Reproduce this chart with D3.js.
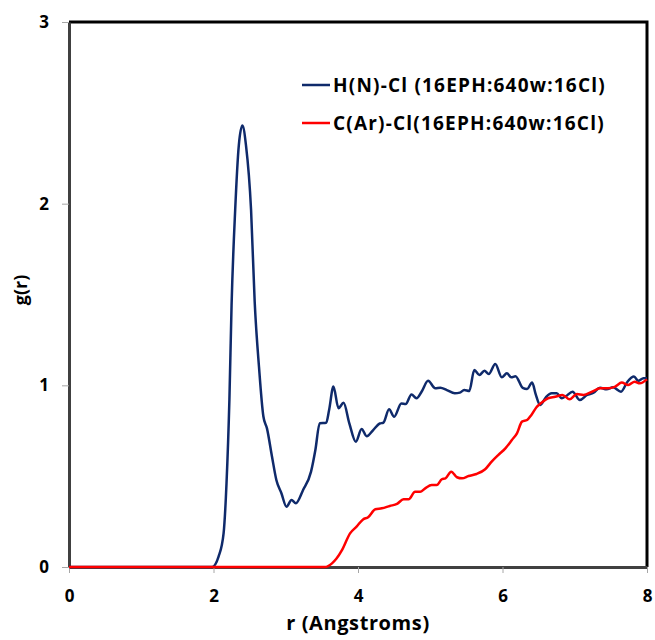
<!DOCTYPE html>
<html>
<head>
<meta charset="utf-8">
<script src="https://cdn.jsdelivr.net/npm/d3@7"></script>
<style>
  body { margin: 0; background: #fff; }
  text { font-family: "Open Sans", sans-serif; font-weight: bold; }
</style>
</head>
<body>
<svg width="655" height="640"></svg>
<script>
// Series names
const seriesNames = ["H(N)-Cl (16EPH:640w:16Cl)", "C(Ar)-Cl(16EPH:640w:16Cl)"];

// H(N)-Cl : [r, g(r)]
const hnData = [
  [0, 0], [1.98, 0], [2.07, 0.057], [2.14, 0.187], [2.18, 0.46], [2.22, 0.92],
  [2.25, 1.44], [2.30, 1.965], [2.35, 2.32], [2.40, 2.43], [2.45, 2.32], [2.52, 1.965],
  [2.57, 1.46], [2.63, 1.10], [2.69, 0.83], [2.74, 0.763], [2.81, 0.607], [2.87, 0.479],
  [2.94, 0.406], [3.01, 0.332], [3.08, 0.369], [3.14, 0.351], [3.24, 0.424], [3.35, 0.525],
  [3.41, 0.644], [3.47, 0.791], [3.56, 0.794], [3.60, 0.864], [3.66, 0.993], [3.73, 0.874],
  [3.80, 0.904], [3.88, 0.791], [3.97, 0.69], [4.05, 0.76], [4.12, 0.72], [4.21, 0.754],
  [4.30, 0.79], [4.35, 0.794], [4.43, 0.868], [4.50, 0.827], [4.60, 0.90], [4.66, 0.897],
  [4.74, 0.95], [4.81, 0.929], [4.88, 0.965], [4.97, 1.025], [5.07, 0.984], [5.14, 0.987],
  [5.23, 0.974], [5.34, 0.956], [5.41, 0.96], [5.47, 0.974], [5.54, 0.969], [5.61, 1.084],
  [5.68, 1.057], [5.75, 1.08], [5.81, 1.062], [5.90, 1.117], [5.99, 1.044], [6.06, 1.066],
  [6.12, 1.044], [6.18, 1.05], [6.28, 0.986], [6.34, 0.98], [6.41, 1.015], [6.46, 0.95],
  [6.52, 0.892], [6.60, 0.934], [6.68, 0.956], [6.75, 0.956], [6.82, 0.929], [6.88, 0.941],
  [6.97, 0.965], [7.07, 0.919], [7.17, 0.947], [7.26, 0.959], [7.35, 0.987], [7.44, 0.978],
  [7.53, 0.989], [7.64, 0.965], [7.73, 1.02], [7.82, 1.048], [7.88, 1.025], [7.95, 1.039],
  [8.0, 1.039]
];

// C(Ar)-Cl : [r, g(r)]
const carData = [
  [0, 0], [3.54, 0], [3.64, 0.02], [3.70, 0.045], [3.78, 0.094], [3.89, 0.185],
  [3.98, 0.222], [4.07, 0.262], [4.14, 0.274], [4.24, 0.318], [4.33, 0.323], [4.44, 0.336],
  [4.54, 0.347], [4.63, 0.373], [4.70, 0.373], [4.79, 0.414], [4.86, 0.414], [4.93, 0.433],
  [5.02, 0.451], [5.09, 0.451], [5.16, 0.483], [5.21, 0.488], [5.29, 0.525], [5.37, 0.494],
  [5.44, 0.488], [5.53, 0.501], [5.64, 0.512], [5.76, 0.538], [5.85, 0.58], [5.94, 0.616],
  [6.04, 0.653], [6.13, 0.699], [6.20, 0.736], [6.27, 0.80], [6.34, 0.809], [6.40, 0.837],
  [6.47, 0.879], [6.54, 0.904], [6.63, 0.929], [6.73, 0.937], [6.83, 0.947], [6.93, 0.923],
  [7.03, 0.952], [7.12, 0.947], [7.24, 0.965], [7.35, 0.984], [7.46, 0.984], [7.56, 0.993],
  [7.65, 1.015], [7.74, 1.002], [7.83, 1.02], [7.90, 1.011], [8.0, 1.033]
];

const xTicks = [0, 2, 4, 6, 8];
const yTicks = [0, 1, 2, 3];
const colors = ["#0f2a6b", "#ff0000"];

// Plot box
const plotLeft = 69, plotRight = 647, plotTop = 22, plotBottom = 567;
const svg = d3.select("svg");

const xScale = d3.scaleLinear().domain([0, 8]).range([plotLeft, plotRight]);
const yScale = d3.scaleLinear().domain([0, 3]).range([plotBottom, plotTop]);

// Frame (top and right in black)
svg.append("path")
    .attr("d", `M${plotLeft},${plotTop}H${plotRight}V${plotBottom}`)
    .attr("fill", "none")
    .attr("stroke", "#000")
    .attr("stroke-width", 3);

// Axes
const xAxis = d3.axisBottom(xScale)
    .tickValues(xTicks)
    .tickFormat(d3.format("d"))
    .tickSize(6).tickSizeOuter(0).tickPadding(17);
const yAxis = d3.axisLeft(yScale)
    .tickValues(yTicks)
    .tickFormat(d3.format("d"))
    .tickSize(7).tickSizeOuter(0).tickPadding(13);

const gx = svg.append("g")
    .attr("transform", `translate(0,${plotBottom})`)
    .call(xAxis);
const gy = svg.append("g")
    .attr("transform", `translate(${plotLeft},0)`)
    .call(yAxis);

[gx, gy].forEach(g => {
  g.select(".domain").attr("stroke", "#404040").attr("stroke-width", 3);
  g.selectAll(".tick line").attr("stroke", "#a6a6a6").attr("stroke-width", 1);
  g.selectAll(".tick text")
    .attr("fill", "#000")
    .style("font-size", "17px")
    .style("font-family", "'Open Sans', sans-serif")
    .style("font-weight", "bold");
});

// Lines
const line = d3.line()
    .x(d => xScale(d[0]))
    .y(d => yScale(d[1]))
    .curve(d3.curveMonotoneX);

[hnData, carData].forEach((data, i) => {
  svg.append("path")
    .datum(data)
    .attr("d", line)
    .attr("fill", "none")
    .attr("stroke", colors[i])
    .attr("stroke-width", 2.5)
    .attr("stroke-linejoin", "round");
});

// Legend
const legend = svg.append("g");
seriesNames.forEach((name, i) => {
  const y = 85 + i * 38;
  legend.append("line")
    .attr("x1", 302).attr("x2", 330)
    .attr("y1", y).attr("y2", y)
    .attr("stroke", colors[i])
    .attr("stroke-width", 2.5);
  legend.append("text")
    .text(name)
    .attr("x", 333)
    .attr("y", y)
    .attr("dy", "0.36em")
    .style("font-size", "19px")
    .style("letter-spacing", "1.2px");
});

// X-axis label
svg.append("text")
    .text("r (Angstroms)")
    .attr("x", (plotLeft + plotRight) / 2)
    .attr("y", 630)
    .style("text-anchor", "middle")
    .style("font-size", "20px")
    .style("letter-spacing", "0.6px");

// Y-axis label
svg.append("text")
    .text("g(r)")
    .attr("transform", "rotate(-90)")
    .attr("x", -290)
    .attr("y", 27)
    .style("text-anchor", "middle")
    .style("font-size", "18px");
</script>
</body>
</html>
